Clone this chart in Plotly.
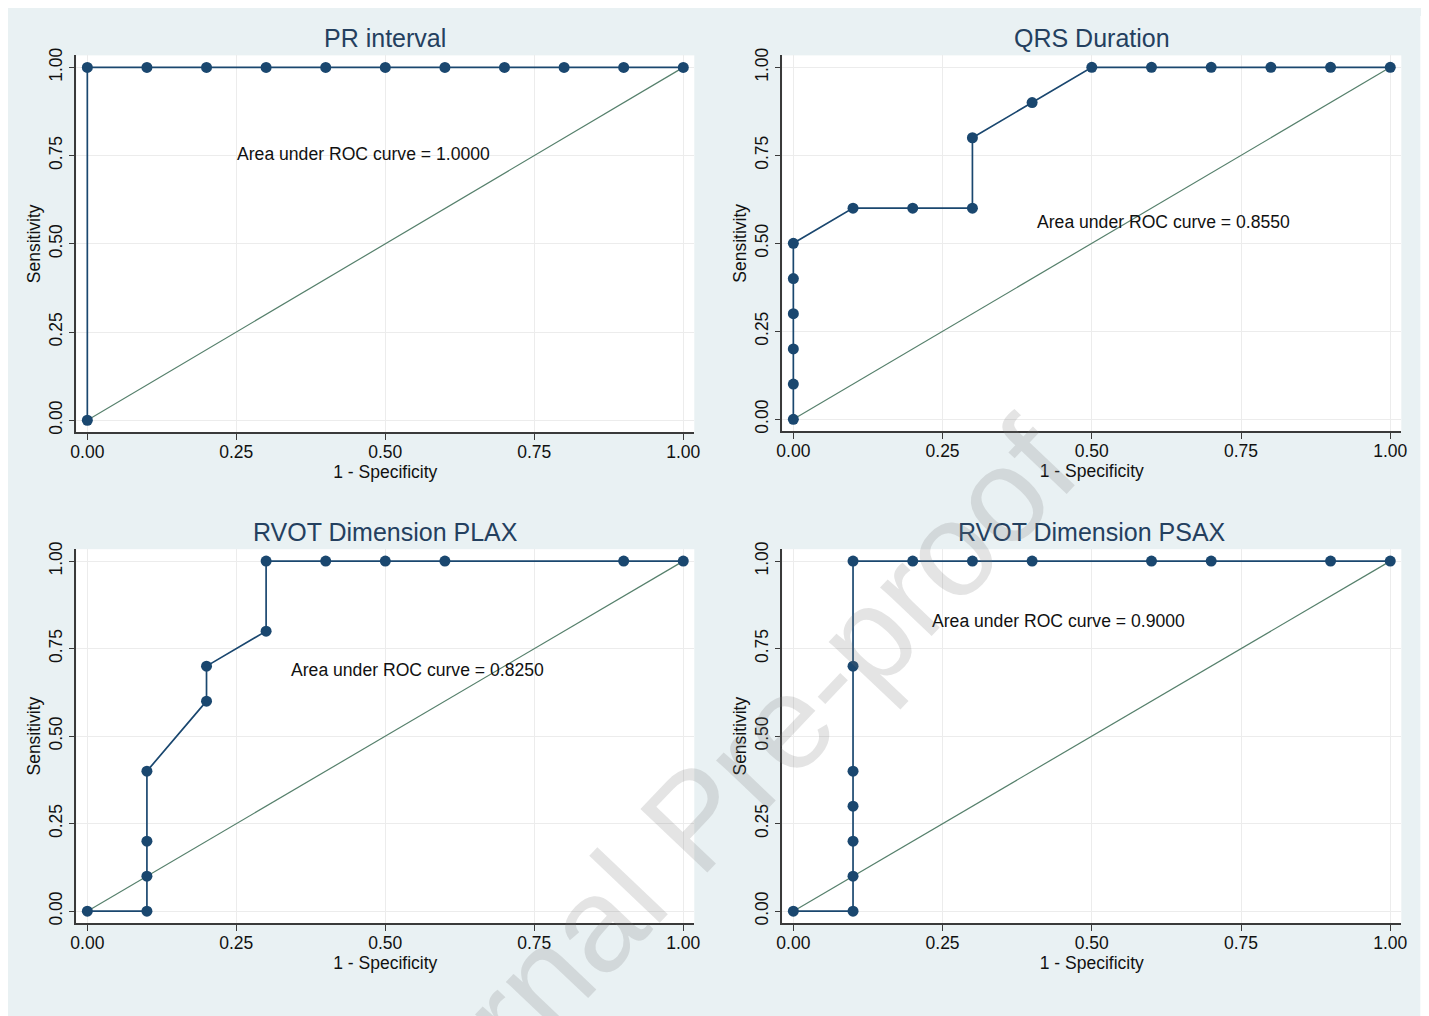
import plotly.graph_objects as go

# ---- data ----
titles = ["PR interval", "QRS Duration", "RVOT Dimension PLAX", "RVOT Dimension PSAX"]
auc_labels = ["Area under ROC curve = 1.0000", "Area under ROC curve = 0.8550",
              "Area under ROC curve = 0.8250", "Area under ROC curve = 0.9000"]

pr_x = [0.0, 0.0, 0.1, 0.2, 0.3, 0.4, 0.5, 0.6, 0.7, 0.8, 0.9, 1.0]
pr_y = [0.0, 1.0, 1.0, 1.0, 1.0, 1.0, 1.0, 1.0, 1.0, 1.0, 1.0, 1.0]

qrs_x = [0.0, 0.0, 0.0, 0.0, 0.0, 0.0, 0.1, 0.2, 0.3, 0.3, 0.4, 0.5, 0.6, 0.7, 0.8, 0.9, 1.0]
qrs_y = [0.0, 0.1, 0.2, 0.3, 0.4, 0.5, 0.6, 0.6, 0.6, 0.8, 0.9, 1.0, 1.0, 1.0, 1.0, 1.0, 1.0]

plax_x = [0.0, 0.1, 0.1, 0.1, 0.1, 0.2, 0.2, 0.3, 0.3, 0.4, 0.5, 0.6, 0.9, 1.0]
plax_y = [0.0, 0.0, 0.1, 0.2, 0.4, 0.6, 0.7, 0.8, 1.0, 1.0, 1.0, 1.0, 1.0, 1.0]

psax_x = [0.0, 0.1, 0.1, 0.1, 0.1, 0.1, 0.1, 0.1, 0.2, 0.3, 0.4, 0.6, 0.7, 0.9, 1.0]
psax_y = [0.0, 0.0, 0.1, 0.2, 0.3, 0.4, 0.7, 1.0, 1.0, 1.0, 1.0, 1.0, 1.0, 1.0, 1.0]

ref_x = [0.0, 1.0]
ref_y = [0.0, 1.0]

# annotation positions (data coords, left-anchored)
auc_pos_x = [0.248, 0.405, 0.339, 0.229]
auc_pos_y = [0.754, 0.561, 0.689, 0.829]

tick_vals = [0.0, 0.25, 0.5, 0.75, 1.0]
tick_text = ["0.00", "0.25", "0.50", "0.75", "1.00"]

curves = [(pr_x, pr_y), (qrs_x, qrs_y), (plax_x, plax_y), (psax_x, psax_y)]

# ---- style ----
W, H = 1429, 1016
FONT = "Liberation Sans, Arial, Helvetica, sans-serif"
NAVY = "#1a476f"
REF = "#56806c"
BG = "#E9F1F3"
GRID = "#ececec"
AXIS = "#3a3a3a"
TITLE_C = "#24405f"

# map from target-image pixels to figure pixels (page offset / scaling compensation)
SX, CX = 0.9916, 13.7
SY, CY = 0.9905, 15.6


def fx(p):
    return (p - CX) / SX


def fy(p):
    return (p - CY) / SY


# pixel boxes of plot areas in the target image: (left, right, top, bottom)
boxes = [(76, 694, 55, 432), (782, 1401, 55, 431), (76, 694, 549, 923), (782, 1401, 549, 923)]
title_y = [38, 38, 532, 532]

fig = go.Figure()

for i, ((cx, cy), box) in enumerate(zip(curves, boxes)):
    n = i + 1
    xa = "x" if n == 1 else f"x{n}"
    ya = "y" if n == 1 else f"y{n}"
    fig.add_trace(go.Scatter(x=ref_x, y=ref_y, mode="lines", xaxis=xa, yaxis=ya,
                             line=dict(color=REF, width=1.2), showlegend=False, hoverinfo="skip"))
    fig.add_trace(go.Scatter(x=cx, y=cy, mode="lines+markers", xaxis=xa, yaxis=ya,
                             line=dict(color=NAVY, width=1.7),
                             marker=dict(color=NAVY, size=11, symbol="circle"),
                             showlegend=False))
    l, r, t, b = fx(box[0]), fx(box[1]), fy(box[2]), fy(box[3])
    xdom = [l / W, r / W]
    ydom = [1 - b / H, 1 - t / H]
    common = dict(showline=True, linecolor=AXIS, linewidth=1.5, ticks="outside", ticklen=6,
                  tickcolor=AXIS, tickwidth=1.2, showgrid=True, gridcolor=GRID, gridwidth=1,
                  zeroline=False, tickvals=tick_vals, ticktext=tick_text,
                  tickfont=dict(family=FONT, size=17.5, color="#111111"), mirror=False)
    fig.update_layout(**{
        ("xaxis" if n == 1 else f"xaxis{n}"): dict(
            domain=xdom, anchor=ya, range=[-0.0185, 1.0185], ticklabelstandoff=-3,
            title=dict(text="1 - Specificity", font=dict(family=FONT, size=17.5, color="#111111"),
                       standoff=1),
            **common),
        ("yaxis" if n == 1 else f"yaxis{n}"): dict(
            domain=ydom, anchor=xa, range=[-0.034, 1.034], tickangle=-90,
            title=dict(text="Sensitivity", font=dict(family=FONT, size=17.5, color="#111111"),
                       standoff=0),
            **common),
    })
    # subplot title
    fig.add_annotation(text=titles[i], xref="paper", yref="paper",
                       x=(l + r) / 2 / W, y=1 - fy(title_y[i]) / H, xanchor="center", yanchor="middle",
                       showarrow=False, font=dict(family=FONT, size=25, color=TITLE_C))
    # AUC label
    fig.add_annotation(text=auc_labels[i], xref=xa, yref=ya, x=auc_pos_x[i], y=auc_pos_y[i],
                       xanchor="left", yanchor="middle", showarrow=False,
                       font=dict(family=FONT, size=17.6, color="#111111"))

# white strip at right edge of the page (outside the tinted panel)
fig.add_shape(type="rect", xref="paper", yref="paper", x0=fx(1420) / W, x1=1.0, y0=0, y1=1,
              fillcolor="white", line=dict(width=0), layer="above")

# watermark
fig.add_annotation(text="Journal Pre-proof", xref="paper", yref="paper",
                   x=fx(694) / W, y=1 - fy(818) / H,
                   xanchor="center", yanchor="middle", showarrow=False, textangle=-46.5,
                   font=dict(family=FONT, size=134, color="rgba(120,120,120,0.2)"))

fig.update_layout(width=W, height=H, margin=dict(l=0, r=0, t=0, b=0),
                  paper_bgcolor=BG, plot_bgcolor="white", showlegend=False)

fig.write_html("out.html")
